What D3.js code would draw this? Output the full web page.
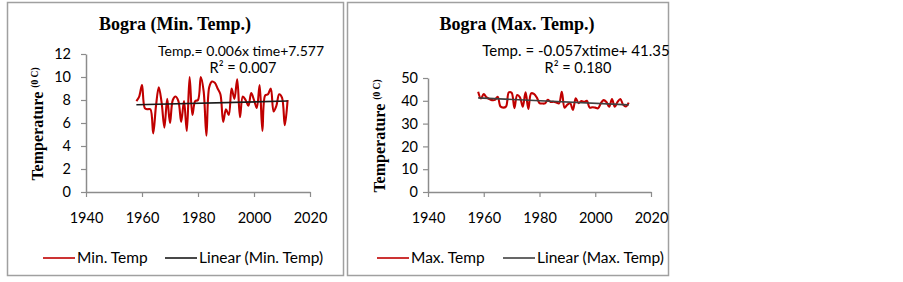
<!DOCTYPE html>
<html>
<head>
<meta charset="utf-8">
<script src="https://cdn.jsdelivr.net/npm/d3@7"></script>
<style>
  body { margin: 0; background: #fff; }
  svg { display: block; }
</style>
</head>
<body>
<div id="chart"></div>
<script>
// Bogra — min / max temperature, 1958-2012, with linear trend

const years = [
  1958, 1959, 1960, 1961, 1962, 1963, 1964, 1965, 1966, 1967,
  1968, 1969, 1970, 1971, 1972, 1973, 1974, 1975, 1976, 1977,
  1978, 1979, 1980, 1981, 1982, 1983, 1984, 1985, 1986, 1987,
  1988, 1989, 1990, 1991, 1992, 1993, 1994, 1995, 1996, 1997,
  1998, 1999, 2000, 2001, 2002, 2003, 2004, 2005, 2006, 2007,
  2008, 2009, 2010, 2011, 2012
];

const minTemp = [
  7.9, 8.3, 9.3, 7.3, 7.2, 7.2, 5.1, 7.5, 9.1, 7.8,
  5.6, 8.1, 6.0, 8.0, 8.3, 7.9, 6.1, 7.9, 5.3, 10.0,
  6.7, 7.9, 8.0, 10.0, 8.8, 4.9, 9.1, 9.6, 9.5, 9.0,
  8.5, 6.1, 7.2, 6.7, 9.0, 8.1, 9.8, 6.5, 8.3, 8.0,
  7.5, 8.6, 8.0, 7.3, 9.3, 5.3, 8.4, 8.5, 9.0, 7.0,
  7.5, 8.5, 8.2, 5.8, 8.0
];

const maxTemp = [
  44.0, 41.0, 43.0, 41.5, 40.8, 40.3, 40.4, 41.8, 37.5, 37.0,
  37.5, 43.7, 43.5, 36.8, 42.5, 41.5, 37.4, 43.7, 36.4, 43.3,
  43.0, 41.5, 39.0, 38.8, 38.9, 40.4, 39.5, 39.6, 39.3, 38.9,
  44.0, 37.0, 38.3, 38.9, 36.0, 41.1, 39.0, 39.9, 39.5, 40.0,
  37.0, 37.2, 37.0, 36.7, 38.9, 40.3, 39.5, 37.4, 40.8, 37.4,
  39.5, 40.8, 38.3, 37.5, 39.2
];

// trend: temp = slope * time + intercept, time = 1..n
const minTrend = { slope: 0.006, intercept: 7.577 };
const maxTrend = { slope: -0.057, intercept: 41.35 };

const xTicks = [1940, 1960, 1980, 2000, 2020];
const minTicks = [0, 2, 4, 6, 8, 10, 12];
const maxTicks = [0, 10, 20, 30, 40, 50];

const W = 903, H = 282;
const RED = "#c00000";
const AXIS = "#8c8c8c";
const SANS = "Lato, 'Open Sans', sans-serif";
const SERIF = "'Liberation Serif', 'DejaVu Serif', serif";

const svg = d3.select("#chart").append("svg")
  .attr("width", W).attr("height", H);

const panels = [
  {
    box: [7, 2, 336, 273],
    x0: 86, x1: 310, yTop: 54, yBot: 192,
    yMax: 12, yTicks: minTicks, yPad: 10,
    values: minTemp, trend: minTrend, trendColor: "#1a1a1a",
    title: "Bogra (Min. Temp.)", titleX: 175,
    eq: "Temp.= 0.006x time+7.577", eqSize: 14, r2: "R² = 0.007", eqX: 241,
    ylabX: 37,
    legend: { y: 258, l1: 43, t1: "Min. Temp", l2: 165, t2: "Linear (Min. Temp)" }
  },
  {
    box: [347, 2, 321, 273],
    x0: 428, x1: 651, yTop: 78, yBot: 192,
    yMax: 50, yTicks: maxTicks, yPad: 5,
    values: maxTemp, trend: maxTrend, trendColor: "#404040",
    title: "Bogra (Max. Temp.)", titleX: 517,
    eq: "Temp. = -0.057xtime+ 41.35", eqSize: 15, r2: "R² = 0.180", eqX: 576,
    ylabX: 379,
    legend: { y: 258, l1: 377, t1: "Max. Temp", l2: 503, t2: "Linear (Max. Temp)" }
  }
];

panels.forEach(p => {
  const g = svg.append("g");

  // outer frame
  g.append("rect")
    .attr("x", p.box[0] + 0.5).attr("y", p.box[1] + 0.5)
    .attr("width", p.box[2]).attr("height", p.box[3])
    .attr("fill", "none")
    .attr("stroke", "#a0a0a0")
    .attr("stroke-width", 1.5);

  const x = d3.scaleLinear().domain([1940, 2020]).range([p.x0, p.x1]);
  const y = d3.scaleLinear().domain([0, p.yMax]).range([p.yBot, p.yTop]);

  // axes
  const yAxis = g.append("g")
    .attr("transform", `translate(${p.x0},0)`)
    .call(d3.axisLeft(y).tickValues(p.yTicks).tickSize(5).tickSizeOuter(0).tickPadding(p.yPad));
  const xAxis = g.append("g")
    .attr("transform", `translate(0,${p.yBot})`)
    .call(d3.axisBottom(x).tickValues(xTicks).tickSize(5).tickSizeOuter(0)
      .tickPadding(16).tickFormat(d3.format("d")));

  [yAxis, xAxis].forEach(a => {
    a.select(".domain").attr("stroke", AXIS).attr("stroke-width", 1.5);
    a.selectAll(".tick line").attr("stroke", AXIS).attr("stroke-width", 1.2);
    a.selectAll(".tick text")
      .attr("fill", "#000")
      .style("font-family", SANS)
      .style("font-size", "14.5px");
  });

  // data line
  const pts = years.map((yr, i) => [yr, p.values[i]]);
  g.append("path")
    .datum(pts)
    .attr("fill", "none")
    .attr("stroke", RED)
    .attr("stroke-width", 2.1)
    .attr("d", d3.line()
      .x(d => x(d[0])).y(d => y(d[1]))
      .curve(d3.curveCatmullRom.alpha(0.5)));

  // linear trend
  const n = years.length;
  const tr = [
    [years[0], p.trend.slope * 1 + p.trend.intercept],
    [years[n - 1], p.trend.slope * n + p.trend.intercept]
  ];
  g.append("path")
    .datum(tr)
    .attr("fill", "none")
    .attr("stroke", p.trendColor)
    .attr("stroke-width", 1.6)
    .attr("d", d3.line().x(d => x(d[0])).y(d => y(d[1])));

  // title
  g.append("text")
    .attr("x", p.titleX).attr("y", 30)
    .attr("text-anchor", "middle")
    .style("font-family", SERIF)
    .style("font-weight", "bold")
    .style("font-size", "18px")
    .text(p.title);

  // equation
  g.append("text")
    .attr("x", p.eqX).attr("y", 56)
    .attr("text-anchor", "middle")
    .style("font-family", SANS)
    .style("font-size", p.eqSize + "px")
    .text(p.eq);
  g.append("text")
    .attr("x", p.eqX + 2).attr("y", 73)
    .attr("text-anchor", "middle")
    .style("font-family", SANS)
    .style("font-size", "14.5px")
    .text(p.r2);

  // y axis title
  const yl = g.append("text")
    .attr("transform", `translate(${p.ylabX},${(p.yTop + p.yBot) / 2 + 1}) rotate(-90)`)
    .attr("text-anchor", "middle")
    .attr("dy", "0.35em")
    .style("font-family", SERIF)
    .style("font-weight", "bold")
    .style("font-size", "16px");
  yl.append("tspan").text("Temperature ");
  yl.append("tspan").attr("dy", -5).style("font-size", "9.5px").text("(0 C)");

  // legend
  const lg = g.append("g").attr("transform", `translate(0,${p.legend.y})`);
  [[p.legend.l1, RED, p.legend.t1], [p.legend.l2, p.trendColor, p.legend.t2]]
    .forEach(([lx, c, t]) => {
      lg.append("line")
        .attr("x1", lx).attr("x2", lx + 32)
        .attr("stroke", c).attr("stroke-width", 1.6);
      lg.append("text")
        .attr("x", lx + 34).attr("dy", "0.35em")
        .style("font-family", SANS)
        .style("font-size", "15.5px")
        .text(t);
    });
});
</script>
</body>
</html>
